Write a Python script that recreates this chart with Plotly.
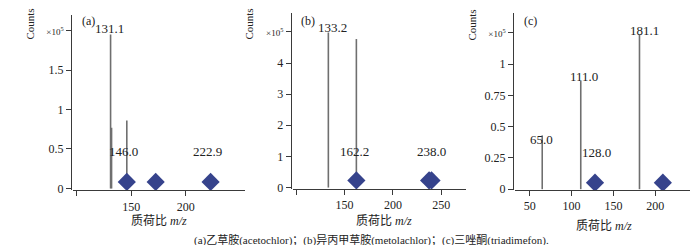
import plotly.graph_objects as go

W, H = 700, 245

# ---------------- data ----------------
# (a) acetochlor
a_peak_mz = [131.1, 132.0, 146.0]
a_peak_int = [1.95, 0.77, 0.86]
a_diam_mz = [146.0, 172.5, 222.9]
a_diam_int = [0.083, 0.083, 0.083]
a_labels = ["131.1", "146.0", "222.9"]

# (b) metolachlor
b_peak_mz = [133.2, 162.2]
b_peak_int = [4.98, 4.77]
b_diam_mz = [162.2, 237.5, 240.0]
b_diam_int = [0.23, 0.23, 0.23]
b_labels = ["133.2", "162.2", "238.0"]

# (c) triadimefon
c_peak_mz = [65.0, 111.0, 181.1]
c_peak_int = [0.43, 0.865, 1.234]
c_diam_mz = [128.0, 209.0]
c_diam_int = [0.052, 0.052]
c_labels = ["181.1", "111.0", "65.0", "128.0"]

a_yticks = [0, 0.5, 1, 1.5, 2]
b_yticks = [0, 1, 2, 3, 4, 5]
c_yticks = [0, 0.25, 0.5, 0.75, 1, 1.25]
a_xticks = [150, 200]
b_xticks = [150, 200, 250]
c_xticks = [50, 100, 150, 200]
unlabeled_xtick = [100]

caption = "(a)乙草胺(acetochlor)；(b)异丙甲草胺(metolachlor)；(c)三唑酮(triadimefon)."

# ---------------- style ----------------
SERIF = "Liberation Serif, Noto Sans CJK SC, serif"
LINE_COL = "#6f6f6f"
DIAM_COL = "#36438c"
AX_COL = "#3a3a3a"
XMARK = "<span style='font-size:9px'>×10<sup>5</sup></span>"


def px(x):
    return x / W


def py(y):
    return 1 - y / H


def stems(mz, inten):
    xs, ys = [], []
    for m, v in zip(mz, inten):
        xs += [m, m, None]
        ys += [0, v, None]
    return xs, ys


fig = go.Figure()

panels = [
    dict(peak=(a_peak_mz, a_peak_int), diam=(a_diam_mz, a_diam_int), xs="x", ys="y"),
    dict(peak=(b_peak_mz, b_peak_int), diam=(b_diam_mz, b_diam_int), xs="x2", ys="y2"),
    dict(peak=(c_peak_mz, c_peak_int), diam=(c_diam_mz, c_diam_int), xs="x3", ys="y3"),
]
for p in panels:
    sx, sy = stems(*p["peak"])
    fig.add_trace(go.Scatter(x=sx, y=sy, mode="lines", xaxis=p["xs"], yaxis=p["ys"],
                             line=dict(color=LINE_COL, width=1.6), hoverinfo="skip",
                             showlegend=False))
    fig.add_trace(go.Scatter(x=p["diam"][0], y=p["diam"][1], mode="markers",
                             xaxis=p["xs"], yaxis=p["ys"],
                             marker=dict(symbol="diamond", size=14, color=DIAM_COL,
                                         line=dict(width=0)),
                             showlegend=False))

common_ax = dict(showline=True, linecolor=AX_COL, linewidth=1, ticks="outside",
                 ticklen=5, tickcolor=AX_COL, showgrid=False, zeroline=False,
                 tickfont=dict(family=SERIF, size=12, color="#222"))

minor_x = dict(tickvals=unlabeled_xtick, ticks="outside", ticklen=5,
               tickcolor=AX_COL, showgrid=False)


def ytext(vals):
    t = ["%g" % v for v in vals]
    t[-1] = XMARK
    return t


layout = dict(
    width=W, height=H,
    margin=dict(l=0, r=0, t=0, b=0),
    paper_bgcolor="white", plot_bgcolor="white",
    showlegend=False,
    # panel a
    xaxis=dict(domain=[px(65), px(237)], range=[96.6, 254.5], anchor="y",
               tickvals=a_xticks, minor=minor_x, **common_ax),
    yaxis=dict(domain=[py(187), py(7)], range=[-0.025, 2.2], anchor="free",
               position=px(63), tickvals=a_yticks, ticktext=ytext(a_yticks),
               **common_ax),
    # panel b
    xaxis2=dict(domain=[px(285), px(458)], range=[96.6, 275.7], anchor="y2",
                tickvals=b_xticks, minor=minor_x, **common_ax),
    yaxis2=dict(domain=[py(185.5), py(5)], range=[-0.045, 5.61], anchor="free",
                position=px(282.7), tickvals=b_yticks, ticktext=ytext(b_yticks),
                **common_ax),
    # panel c
    xaxis3=dict(domain=[px(507), px(682)], range=[32.5, 241.4], anchor="y3",
                tickvals=c_xticks, **common_ax),
    yaxis3=dict(domain=[py(186.5), py(5)], range=[-0.006, 1.41], anchor="free",
                position=px(505), tickvals=c_yticks, ticktext=ytext(c_yticks),
                **common_ax),
)
fig.update_layout(**layout)

ann = []


def txt(x, y, s, size=12, **kw):
    d = dict(x=px(x), y=py(y), xref="paper", yref="paper", text=s, showarrow=False,
             font=dict(family=SERIF, size=size, color="#222"), xanchor="center",
             yanchor="middle")
    d.update(kw)
    ann.append(d)


# panel tags
txt(80, 13, "(a)")
txt(300, 13, "(b)")
txt(522, 13, "(c)")
# peak labels
for s, (x, y) in zip(a_labels, [(101, 21), (115, 147), (199, 147)]):
    txt(x, y, s, size=13)
for s, (x, y) in zip(b_labels, [(324, 20), (346, 147), (423, 147)]):
    txt(x, y, s, size=13)
for s, (x, y) in zip(c_labels, [(636, 23), (576, 70), (533, 135), (588, 148)]):
    txt(x, y, s, size=13)
# Counts
for x in [22, 241, 464]:
    txt(x, 17, "Counts", size=11, textangle=-90)
# x titles
xt = "质荷比 <i>m/z</i>"
txt(151, 218, xt, size=12)
txt(376, 218, xt, size=12)
txt(596, 223, xt, size=12)
# caption
txt(363, 238, caption, size=11)

fig.update_layout(annotations=ann)
fig.write_html("out.html")
